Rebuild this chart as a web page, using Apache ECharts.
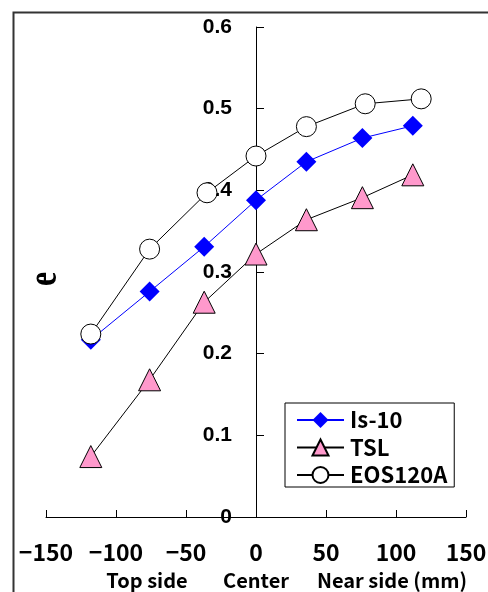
<!DOCTYPE html>
<html><head><meta charset="utf-8">
<script src="https://cdn.jsdelivr.net/npm/echarts@6/dist/echarts.min.js"></script>
<style>html,body{margin:0;padding:0;background:#fff}#c{width:488px;height:592px}</style>
</head><body><div id="c"></div>
<script>
const seriesNames = ['Is-10', 'TSL', 'EOS120A'];
const isX = [-118, -76, -37, 0, 36, 76, 112];
const isY = [0.217, 0.276, 0.331, 0.388, 0.435, 0.464, 0.479];
const tslX = [-118, -76, -37, 0, 36, 76, 112];
const tslY = [0.074, 0.168, 0.263, 0.322, 0.364, 0.391, 0.419];
const eosX = [-118, -76, -35, 0, 36, 78, 118];
const eosY = [0.224, 0.328, 0.397, 0.442, 0.478, 0.506, 0.512];
const xTicks = [-150, -100, -50, 0, 50, 100, 150];
const yTicks = [0, 0.1, 0.2, 0.3, 0.4, 0.5, 0.6];

const zip = (xs, ys) => xs.map((x, i) => [x, ys[i]]);
const chart = echarts.init(document.getElementById('c'), null, {renderer: 'canvas'});
const cjk = '"Noto Sans CJK JP", "Noto Sans", sans-serif';
const gridLeft = 46, gridRight = 22;
const plotW = 488 - gridLeft - gridRight;
const xMin = xTicks[0], xMax = xTicks[xTicks.length - 1];
// shift the y axis so it sits on x = 0 (computed from the axis scale)
const yOffset = -plotW * (0 - xMin) / (xMax - xMin);
chart.setOption({
  animation: false,
  backgroundColor: '#fff',
  grid: {left: gridLeft, right: gridRight, top: 27, bottom: 75, containLabel: false, outerBoundsMode: 'none'},
  xAxis: {
    type: 'value', min: xMin, max: xMax, interval: 50,
    splitLine: {show: false},
    axisLine: {show: true, onZero: false, lineStyle: {color: '#000', width: 1}},
    axisTick: {show: true, inside: true, length: 7, lineStyle: {color: '#000'}},
    axisLabel: {margin: 24, color: '#000', fontSize: 23, fontWeight: 'bold', fontFamily: cjk,
      formatter: v => (v < 0 ? '\u2212' + Math.abs(v) : String(v))}
  },
  yAxis: {
    type: 'value', min: yTicks[0], max: yTicks[yTicks.length - 1], interval: 0.1,
    offset: yOffset,
    splitLine: {show: false},
    axisLine: {show: true, onZero: false, lineStyle: {color: '#000', width: 1}},
    axisTick: {show: true, inside: true, length: 8, lineStyle: {color: '#000'}},
    axisLabel: {margin: 24, color: '#000', fontSize: 21, fontWeight: 'bold', fontFamily: '"Liberation Sans", Arial, sans-serif',
      formatter: v => (Math.abs(v) < 1e-9 ? '0' : v.toFixed(1))}
  },
  legend: {
    left: 285, top: 403, orient: 'vertical',
    data: seriesNames,
    itemWidth: 47, itemHeight: 20, itemGap: 5.5,
    padding: [6, 7, 1, 11],
    borderColor: '#000', borderWidth: 1, backgroundColor: '#fff',
    textStyle: {color: '#000', fontSize: 22, lineHeight: 20, fontWeight: 'bold', fontFamily: cjk, padding: [0, 0, 0, 1]}
  },
  series: [
    {name: seriesNames[0], type: 'line', data: zip(isX, isY), symbol: 'diamond', symbolSize: 20,
      lineStyle: {color: '#0000FF', width: 1}, itemStyle: {color: '#0000FF', borderWidth: 0}, z: 2},
    {name: seriesNames[1], type: 'line', data: zip(tslX, tslY), symbol: 'triangle', symbolSize: [22, 22],
      lineStyle: {color: '#000', width: 1}, itemStyle: {color: '#FF99CC', borderColor: '#000', borderWidth: 1}, z: 3},
    {name: seriesNames[2], type: 'line', data: zip(eosX, eosY), symbol: 'circle', symbolSize: 20,
      lineStyle: {color: '#000', width: 1}, itemStyle: {color: '#fff', borderColor: '#000', borderWidth: 1}, z: 4}
  ],
  graphic: [
    {type: 'rect', left: 11, top: 10, shape: {width: 600, height: 700}, silent: true, z: -10,
      style: {fill: 'none', stroke: '#333', lineWidth: 2}},
    {type: 'text', x: 45, y: 279, rotation: Math.PI / 2, scaleY: 1.35, z: 10,
      style: {text: 'e', fill: '#000', font: 'bold 32px "Liberation Serif", "DejaVu Serif", serif', align: 'center', verticalAlign: 'middle'}},
    {type: 'text', x: 147, y: 580, z: 10,
      style: {text: 'Top side', fill: '#000', font: 'bold 20px ' + cjk, align: 'center', verticalAlign: 'middle'}},
    {type: 'text', x: 256, y: 580, z: 10,
      style: {text: 'Center', fill: '#000', font: 'bold 20px ' + cjk, align: 'center', verticalAlign: 'middle'}},
    {type: 'text', x: 392, y: 580, z: 10,
      style: {text: 'Near side (mm)', fill: '#000', font: 'bold 20px ' + cjk, align: 'center', verticalAlign: 'middle'}}
  ]
});
</script></body></html>
